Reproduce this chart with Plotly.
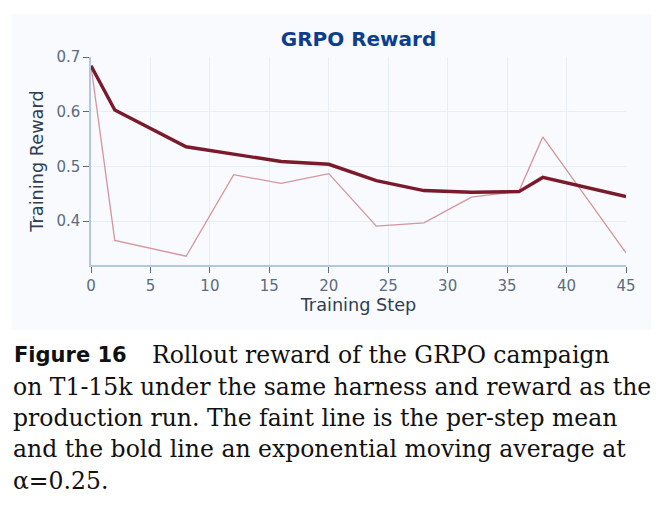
import plotly.graph_objects as go

steps = [0, 2, 8, 12, 16, 20, 24, 28, 32, 36, 38, 45]
step_mean = [0.684, 0.365, 0.336, 0.485, 0.469, 0.487, 0.391, 0.397, 0.444, 0.455, 0.554, 0.342]
step_ema = [0.684, 0.603, 0.536, 0.523, 0.509, 0.504, 0.474, 0.456, 0.453, 0.454, 0.480, 0.445]

x_ticks = [0, 5, 10, 15, 20, 25, 30, 35, 40, 45]
y_ticks = [0.4, 0.5, 0.6, 0.7]

caption_lines = [
    "Rollout reward of the GRPO campaign",
    "on T1-15k under the same harness and reward as the",
    "production run. The faint line is the per-step mean",
    "and the bold line an exponential moving average at",
    "\u03b1=0.25.",
]

# page body has an 8px margin, so target pixel positions are shifted by it
OFF = 8
W, H = 667, 516
L, R, T, B = 91 - OFF, 41 + OFF, 57 - OFF, 251 + OFF
pw, ph = W - L - R, H - T - B

fig = go.Figure()

fig.add_trace(go.Scatter(
    x=steps, y=step_mean, mode="lines",
    line=dict(color="#d4959d", width=1.3),
    showlegend=False,
))
fig.add_trace(go.Scatter(
    x=steps, y=step_ema, mode="lines",
    line=dict(color="#7a1a2b", width=3.4),
    showlegend=False,
))


def px(xp):
    return (xp - OFF - L) / pw


def py(yp):
    return 1 - (yp - OFF - T) / ph


# light panel behind the chart
fig.add_shape(type="rect", xref="paper", yref="paper", layer="below",
              x0=px(12), x1=px(651), y0=py(330), y1=py(14),
              fillcolor="#f8fafd", line=dict(width=0))

# caption below the chart
centers = [355, 387, 418, 449, 481]
fig.add_annotation(text="<b>Figure 16</b>", xref="paper", yref="paper",
                   x=px(12), y=py(centers[0]), xanchor="left", yanchor="middle",
                   showarrow=False,
                   font=dict(family="DejaVu Sans", size=21, color="#111111"))
for i, line in enumerate(caption_lines):
    x0 = 150 if i == 0 else 11
    fig.add_annotation(text=line, xref="paper", yref="paper",
                       x=px(x0), y=py(centers[i]), xanchor="left",
                       yanchor="middle", showarrow=False,
                       font=dict(family="DejaVu Serif", size=23.5,
                                 color="#111111"))

axis_col = "#b5c7dc"
fig.update_layout(
    width=W, height=H,
    margin=dict(l=L, r=R, t=T, b=B, autoexpand=False),
    paper_bgcolor="white",
    plot_bgcolor="rgba(0,0,0,0)",
    font=dict(family="DejaVu Sans"),
    title=dict(text="<b>GRPO Reward</b>", x=(L + pw / 2) / W, xanchor="center",
               y=1 - (39 - OFF) / H, yanchor="middle",
               font=dict(size=20, color="#0d3d8f")),
    xaxis=dict(
        range=[0, 45], tickvals=x_ticks, showgrid=True, gridcolor="#e6eef7",
        zeroline=False, showline=True, linecolor=axis_col, linewidth=1.5,
        ticks="outside", ticklen=6, tickcolor="#5b6b80",
        tickfont=dict(size=15, color="#5b6b80"),
        title=dict(text="Training Step", standoff=5,
                   font=dict(size=17.7, color="#2f3e55")),
    ),
    yaxis=dict(
        range=[0.32, 0.70], tickvals=y_ticks, showgrid=True, gridcolor="#e6eef7",
        zeroline=False, showline=True, linecolor=axis_col, linewidth=1.5,
        ticks="outside", ticklen=6, tickcolor="#5b6b80",
        tickfont=dict(size=15, color="#5b6b80"),
        title=dict(text="Training Reward", standoff=8,
                   font=dict(size=17.7, color="#2f3e55")),
    ),
)

fig.write_html("out.html")
